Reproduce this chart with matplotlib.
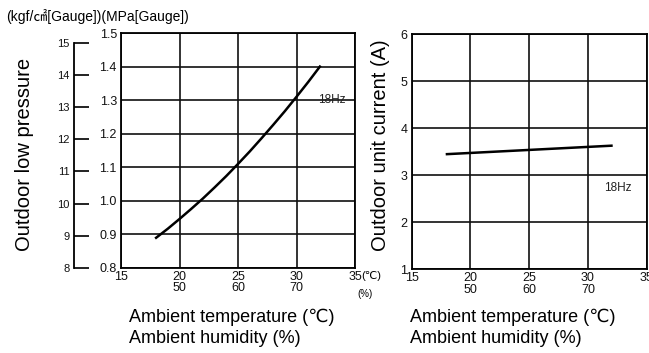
import numpy as np
import matplotlib
matplotlib.use("Agg")
import matplotlib.pyplot as plt

plt.rcParams['font.family'] = ['Liberation Sans', 'DejaVu Sans', 'Noto Sans CJK JP']

# left chart: outdoor low pressure vs ambient temperature (18Hz)
temp_p = [18, 19, 20, 21, 22, 23, 24, 25, 26, 27, 28, 29, 30, 31, 32]
pressure = [0.890, 0.917, 0.946, 0.976, 1.007, 1.040, 1.074, 1.110,
            1.147, 1.186, 1.226, 1.267, 1.310, 1.354, 1.400]

# right chart: outdoor unit current vs ambient temperature (18Hz)
temp_c = [18.0, 32.0]
current = [3.45, 3.63]

x_ticks = [15, 20, 25, 30, 35]
x_labels = ["15", "20\n50", "25\n60", "30\n70", "35"]
p_ticks = [0.8, 0.9, 1.0, 1.1, 1.2, 1.3, 1.4, 1.5]
p_labels = ["0.8", "0.9", "1.0", "1.1", "1.2", "1.3", "1.4", "1.5"]
kgf_ticks = [8, 9, 10, 11, 12, 13, 14, 15]
c_ticks = [1, 2, 3, 4, 5, 6]

MPA_TO_KGF = 1 / 0.0980665
W, H = 649, 353

fig = plt.figure(figsize=(W / 100, H / 100), dpi=100)


def style(ax):
    for s in ax.spines.values():
        s.set_linewidth(1.3)
        s.set_color("black")
    ax.grid(True, color="#111111", linewidth=1.2)
    ax.set_axisbelow(True)
    ax.tick_params(length=0, labelsize=9, colors="#111111")
    ax.tick_params(axis="x", pad=2)
    ax.tick_params(axis="y", pad=3)
    for lab in ax.get_xticklabels():
        lab.set_linespacing(0.95)


# ---- left chart
ax1 = fig.add_axes([121 / W, 1 - 268 / H, 234 / W, 235 / H])
ax1.plot(temp_p, pressure, color="black", linewidth=1.8)
ax1.set_xlim(15, 35)
ax1.set_ylim(0.8, 1.5)
ax1.set_xticks(x_ticks, labels=x_labels)
ax1.set_yticks(p_ticks, labels=p_labels)
style(ax1)
ax1.text(31.8, 1.3, "18Hz", fontsize=8.5, ha="left", va="center", color="#222222")
ax1.annotate("(℃)", xy=(35, 0.8), xytext=(4.3, -2), textcoords="offset points",
             ha="left", va="top", fontsize=8, annotation_clip=False)
ax1.annotate("(%)", xy=(35, 0.8), xytext=(1.5, -15), textcoords="offset points",
             ha="left", va="top", fontsize=7, annotation_clip=False)

# secondary kgf scale
ax0 = fig.add_axes([74 / W, 1 - 268 / H, 20 / W, 235 / H])
ax0.set_ylim(0.8 * MPA_TO_KGF, 1.5 * MPA_TO_KGF)
ax0.set_xticks([])
ax0.set_yticks(kgf_ticks)
for k in ["top", "right", "bottom"]:
    ax0.spines[k].set_visible(False)
ax0.spines["left"].set_bounds(8, 15)
ax0.spines["left"].set_linewidth(1.3)
ax0.patch.set_visible(False)
ax0.tick_params(axis="y", direction="in", length=11, width=1.3, labelsize=8, pad=3,
                colors="#111111")

fig.text(25 / W, 1 - 154 / H, "Outdoor low pressure", rotation=90, fontsize=14.5,
         ha="center", va="center")
fig.text(6 / W, 1 - 17 / H, "(kgf/㎠[Gauge])(MPa[Gauge])", fontsize=10,
         ha="left", va="center")
fig.text(129 / W, 1 - 328 / H, "Ambient temperature (℃)\nAmbient humidity (%)",
         fontsize=13, ha="left", va="center", linespacing=1.3)

# ---- right chart
ax2 = fig.add_axes([411.7 / W, 1 - 269.3 / H, 235 / W, 235 / H])
ax2.plot(temp_c, current, color="black", linewidth=1.8)
ax2.set_xlim(15, 35)
ax2.set_ylim(1, 6)
ax2.set_xticks(x_ticks, labels=x_labels)
ax2.set_yticks(c_ticks)
style(ax2)
ax2.text(32.5, 2.73, "18Hz", fontsize=8.5, ha="center", va="center", color="#222222")

fig.text(380 / W, 1 - 145 / H, "Outdoor unit current (A)", rotation=90, fontsize=14.5,
         ha="center", va="center")
fig.text(410 / W, 1 - 328 / H, "Ambient temperature (℃)\nAmbient humidity (%)",
         fontsize=13, ha="left", va="center", linespacing=1.3)

fig.savefig("out.png", dpi=100)
